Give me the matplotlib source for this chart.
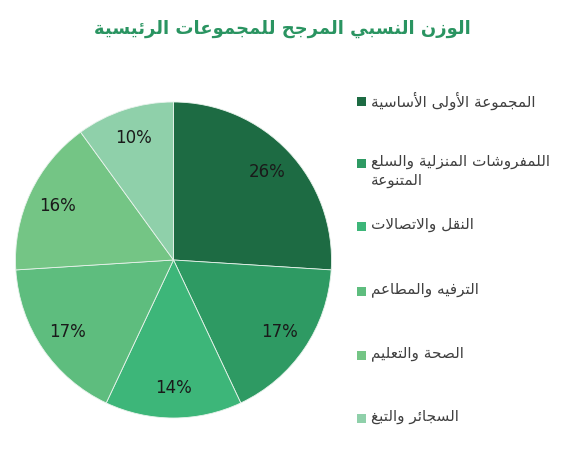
import unicodedata
import numpy as np
import matplotlib
matplotlib.use("Agg")
import matplotlib.pyplot as plt
from matplotlib.patches import Rectangle

title = "الوزن النسبي المرجح للمجموعات الرئيسية"
categories = [
    "المجموعة الأولى الأساسية",
    "اللمفروشات المنزلية والسلع\nالمتنوعة",
    "النقل والاتصالات",
    "الترفيه والمطاعم",
    "الصحة والتعليم",
    "السجائر والتبغ",
]
values = [26, 17, 14, 17, 16, 10]
colors = ["#1d6b43", "#2e9a63", "#3db679", "#5ebd7e", "#74c585", "#8fd0aa"]


def _form(ch, form):
    try:
        return unicodedata.lookup(unicodedata.name(ch) + " " + form + " FORM")
    except (KeyError, ValueError):
        return None


def _joins_right(ch):
    return _form(ch, "FINAL") is not None


def _joins_left(ch):
    return _form(ch, "INITIAL") is not None


LAM = "\u0644"
LAM_ALEF = {
    "\u0627": "ARABIC LIGATURE LAM WITH ALEF",
    "\u0623": "ARABIC LIGATURE LAM WITH ALEF WITH HAMZA ABOVE",
    "\u0625": "ARABIC LIGATURE LAM WITH ALEF WITH HAMZA BELOW",
    "\u0622": "ARABIC LIGATURE LAM WITH ALEF WITH MADDA ABOVE",
}


def shape_line(s):
    out = []
    i = 0
    n = len(s)
    while i < n:
        c = s[i]
        prev = s[i - 1] if i > 0 else None
        p_join = prev is not None and _joins_left(prev) and _joins_right(c)
        if c == LAM and i + 1 < n and s[i + 1] in LAM_ALEF:
            name = LAM_ALEF[s[i + 1]]
            out.append(unicodedata.lookup(name + (" FINAL FORM" if p_join else " ISOLATED FORM")))
            i += 2
            continue
        nxt = s[i + 1] if i + 1 < n else None
        n_join = nxt is not None and _joins_left(c) and _joins_right(nxt)
        if _form(c, "ISOLATED") is None:
            out.append(c)
        elif p_join and n_join:
            out.append(_form(c, "MEDIAL"))
        elif p_join:
            out.append(_form(c, "FINAL"))
        elif n_join:
            out.append(_form(c, "INITIAL"))
        else:
            out.append(_form(c, "ISOLATED"))
        i += 1
    return "".join(reversed(out))


def ar(s):
    return "\n".join(shape_line(line) for line in s.split("\n"))


plt.rcParams["font.family"] = ["DejaVu Sans"]

fig = plt.figure(figsize=(5.61, 4.5), dpi=100)
W, H = 561, 450
ax = fig.add_axes([15 / W, 1 - 418 / H, 317 / W, 316 / H])
wedges, texts = ax.pie(
    values, colors=colors, startangle=90, counterclock=False,
    wedgeprops=dict(linewidth=0.6, edgecolor="#e8f3ec"),
)
ax.set_xlim(-1, 1)
ax.set_ylim(-1, 1)
ax.set_aspect("equal")
for w, v in zip(wedges, values):
    ang = np.deg2rad((w.theta1 + w.theta2) / 2)
    r = 0.81
    ax.text(r * np.cos(ang), r * np.sin(ang), f"{v}%", ha="center", va="center",
            fontsize=12, color="#1a1a1a")

fig.text(282 / W, 1 - 29 / H, ar(title), ha="center", va="center",
         fontsize=13, fontweight="bold", color="#2a9461")

ys = [101, 163, 226, 291, 355, 418]
for lab, col, y in zip(categories, colors, ys):
    fig.patches.append(Rectangle((357 / W, 1 - (y + 4.5) / H), 9 / W, 9 / H,
                                 transform=fig.transFigure, facecolor=col,
                                 edgecolor="none"))
    fig.text(371 / W, 1 - (y - 9) / H, ar(lab), ha="left", va="top",
             fontsize=11, color="#404040", linespacing=1.35)

fig.savefig("out.png", dpi=100)
